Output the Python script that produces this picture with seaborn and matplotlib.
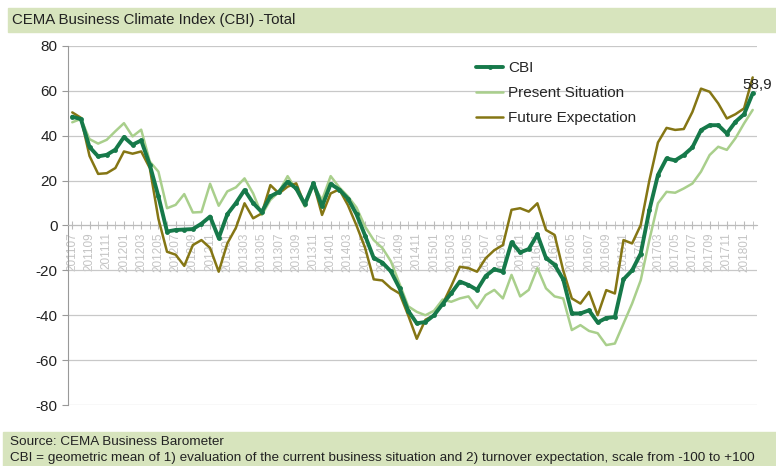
import matplotlib
matplotlib.use("Agg")
import matplotlib.pyplot as plt
import seaborn as sns
import numpy as np
import pandas as pd
from matplotlib.patches import Rectangle

# monthly periods 2011-07 .. 2018-02
months = [p.strftime("%Y%m") for p in pd.period_range("2011-07", "2018-02", freq="M")]

cbi = [48.5, 47.4, 35.0, 30.8, 31.5, 33.8, 39.4, 36.0, 37.9, 27.0,
       13.0, -2.7, -2.0, -1.8, -1.6, 0.8, 4.0, -5.6, 5.0, 10.0,
       15.8, 10.0, 6.0, 13.0, 15.0, 19.5, 16.5, 9.5, 18.8, 8.5,
       18.5, 16.0, 12.0, 5.0, -4.5, -14.5, -16.5, -20.5, -28.0, -38.0,
       -43.6, -43.0, -40.0, -35.0, -30.2, -25.0, -26.5, -28.7, -22.5, -19.5,
       -20.6, -7.5, -12.0, -10.5, -4.0, -14.5, -17.5, -24.0, -39.2, -39.2,
       -37.8, -43.2, -41.2, -40.8, -24.0, -20.0, -12.5, 6.8, 22.5, 29.9,
       29.0, 31.4, 34.8, 42.5, 44.7, 44.7, 41.0, 46.2, 49.6, 58.9]

present = [46.0, 47.5, 38.5, 36.5, 38.2, 42.0, 45.6, 39.7, 42.7, 28.5,
           24.0, 7.7, 9.2, 14.0, 5.8, 6.0, 18.6, 8.8, 15.2, 17.0,
           21.0, 14.3, 4.7, 11.4, 15.0, 22.0, 16.0, 8.4, 18.0, 11.4,
           22.0, 17.0, 13.0, 8.0, -0.5, -6.5, -10.0, -16.0, -26.0, -36.0,
           -38.5, -40.0, -38.0, -33.0, -34.0, -32.5, -31.6, -36.8, -31.0, -28.7,
           -32.5, -22.0, -31.6, -28.7, -19.0, -28.0, -31.6, -32.5, -46.6, -44.4,
           -47.0, -48.0, -53.3, -52.6, -43.7, -34.8, -24.4, -6.5, 9.9, 15.0,
           14.6, 16.5, 18.7, 24.0, 31.4, 35.1, 33.7, 38.9, 45.5, 51.5]

future = [50.4, 48.0, 31.0, 23.0, 23.3, 25.6, 33.0, 32.0, 33.0, 25.6,
          3.0, -11.7, -13.0, -18.0, -8.7, -6.5, -10.0, -20.6, -8.0, -1.0,
          9.9, 3.2, 5.4, 18.0, 14.3, 17.3, 18.8, 9.1, 18.8, 4.7,
          14.3, 16.1, 9.1, 0.0, -10.0, -24.0, -24.5, -28.0, -30.3, -40.0,
          -50.5, -42.0, -40.0, -35.0, -27.0, -18.4, -19.0, -20.6, -14.6, -11.0,
          -8.7, 7.0, 7.7, 6.2, 9.9, -2.0, -4.2, -20.0, -32.5, -34.8,
          -29.6, -40.0, -28.8, -30.3, -6.5, -8.0, 0.2, 20.0, 37.0, 43.5,
          42.6, 43.0, 50.6, 61.0, 59.6, 54.4, 47.7, 49.6, 52.2, 66.0]

df = pd.DataFrame({"idx": np.arange(len(months)), "month": months,
                   "CBI": cbi, "Present Situation": present,
                   "Future Expectation": future})

sns.set_style("white")
plt.rcParams["font.family"] = ["Liberation Sans", "DejaVu Sans"]
plt.rcParams["axes.unicode_minus"] = False

fig = plt.figure(figsize=(7.76, 4.66), dpi=100)
ax = fig.add_axes([0.0876, 0.1309, 0.8879, 0.7704])

band = "#d7e4bd"
fig.patches.append(Rectangle((8 / 776, 1 - 32 / 466), 1, 24 / 466,
                             transform=fig.transFigure, color=band, zorder=0))
fig.patches.append(Rectangle((3 / 776, 0), 1, 34 / 466,
                             transform=fig.transFigure, color=band, zorder=0))
fig.text(12 / 776, 1 - 20 / 466, "CEMA Business Climate Index (CBI) -Total",
         fontsize=10.8, va="center", ha="left", color="#222222")
fig.text(10 / 776, 1 - 442 / 466, "Source: CEMA Business Barometer",
         fontsize=9.7, va="center", ha="left", color="#222222")
fig.text(10 / 776, 1 - 458 / 466,
         "CBI = geometric mean of 1) evaluation of the current business situation "
         "and 2) turnover expectation, scale from -100 to +100",
         fontsize=9.7, va="center", ha="left", color="#222222")

sns.lineplot(data=df, x="idx", y="Present Situation", ax=ax, color="#a9cf8c",
             lw=1.8, label="Present Situation", zorder=3)
sns.lineplot(data=df, x="idx", y="Future Expectation", ax=ax, color="#857614",
             lw=1.8, label="Future Expectation", zorder=3)
sns.lineplot(data=df, x="idx", y="CBI", ax=ax, color="#16794a", lw=2.8,
             marker="o", markersize=3.5, markeredgewidth=0, label="CBI", zorder=4)

ax.annotate("58,9", xy=(df["idx"].iloc[-1], cbi[-1]), xytext=(-10, 1),
            textcoords="offset pixels", fontsize=11, ha="left", va="bottom",
            color="#222222", annotation_clip=False)

ax.set_xlim(-0.5, len(months) - 0.5)
ax.set_ylim(-80, 80)
ax.set_yticks(range(-80, 81, 20))
ax.set_xticks(df["idx"][::2])
ax.set_xticklabels(df["month"][::2])
ax.set_xticks(df["idx"], minor=True)
ax.set_xlabel("")
ax.set_ylabel("")
ax.grid(axis="y", color="#c8c8c8", lw=0.9)
ax.set_axisbelow(True)

for s in ["top", "right"]:
    ax.spines[s].set_visible(False)
ax.spines["left"].set_color("#999999")
ax.spines["bottom"].set_position(("data", 0))
ax.spines["bottom"].set_color("#bbbbbb")
ax.tick_params(axis="y", labelsize=11, length=4, color="#999999", left=True,
               labelcolor="#222222")
ax.tick_params(axis="x", which="both", direction="inout", length=6,
               color="#bbbbbb", bottom=True, pad=2)
ax.tick_params(axis="x", labelrotation=90, labelsize=8.5, labelcolor="#c4c4c4")

h, l = ax.get_legend_handles_labels()
order = [2, 0, 1]
ax.legend([h[i] for i in order], [l[i] for i in order], loc="upper left",
          bbox_to_anchor=(0.583, 0.975), frameon=False, fontsize=11,
          handlelength=1.8, handletextpad=0.3, labelspacing=0.72,
          borderaxespad=0)

fig.savefig("out.png", dpi=100)
